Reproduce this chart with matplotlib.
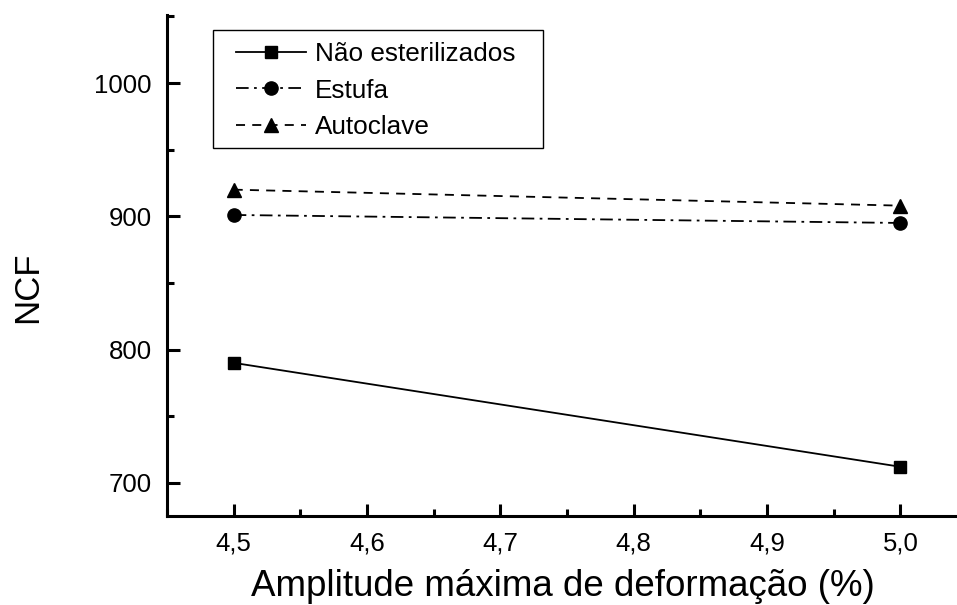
import matplotlib
matplotlib.use("Agg")
import matplotlib.pyplot as plt
from matplotlib.patches import Rectangle
from matplotlib.ticker import MultipleLocator, FuncFormatter

plt.rcParams['font.family'] = ['Liberation Sans', 'DejaVu Sans']

amplitude = [4.5, 5.0]
nao_esterilizados = [790, 712]
estufa = [901, 895]
autoclave = [920, 908]

W, H = 957, 605
fig = plt.figure(figsize=(W / 100, H / 100), dpi=100)
ax = fig.add_axes([0.1745, 0.147, 0.836, 0.828])

lw = 1.3
ax.plot(amplitude, nao_esterilizados, color='black', lw=lw, linestyle='-',
        marker='s', markersize=9, label='Não esterilizados')
ax.plot(amplitude, estufa, color='black', lw=lw, linestyle=(0, (7, 3, 1.5, 3)),
        marker='o', markersize=9.5, label='Estufa')
ax.plot(amplitude, autoclave, color='black', lw=lw, linestyle=(0, (5, 4)),
        marker='^', markersize=10.5, label='Autoclave')

ax.set_xlim(4.45, 5.05)
ax.set_ylim(675, 1051)

ax.xaxis.set_major_locator(MultipleLocator(0.1))
ax.xaxis.set_minor_locator(MultipleLocator(0.05))
ax.yaxis.set_major_locator(MultipleLocator(100))
ax.yaxis.set_minor_locator(MultipleLocator(50))
ax.xaxis.set_major_formatter(FuncFormatter(lambda v, p: f"{v:.1f}".replace('.', ',')))
ax.yaxis.set_major_formatter(FuncFormatter(lambda v, p: f"{v:.0f}"))

for side in ('top', 'right'):
    ax.spines[side].set_visible(False)
for side in ('left', 'bottom'):
    ax.spines[side].set_linewidth(2.2)

ax.tick_params(which='major', direction='in', length=9, width=2.2,
               labelsize=18.5, pad=11)
ax.tick_params(which='minor', direction='in', length=5, width=2.2)

fig.text(563 / W, 1 - 596 / H, 'Amplitude máxima de deformação (%)',
         fontsize=26.5, ha='center', va='baseline')
fig.text(27.5 / W, 1 - 287 / H, 'NCF', fontsize=25, rotation=90,
         ha='center', va='center')

leg = ax.legend(loc='upper left', bbox_to_anchor=(236 / W, 1 - 42 / H),
                bbox_transform=fig.transFigure, fontsize=18.8, frameon=False,
                handlelength=2.68, handletextpad=0.35, borderpad=0,
                labelspacing=0.48, borderaxespad=0)

frame = Rectangle((213 / W, 1 - 148 / H), (543 - 213) / W, (148 - 30) / H,
                  transform=fig.transFigure, fill=False, edgecolor='black',
                  linewidth=1.0, zorder=5)
fig.add_artist(frame)

fig.savefig('out.png', dpi=100)
